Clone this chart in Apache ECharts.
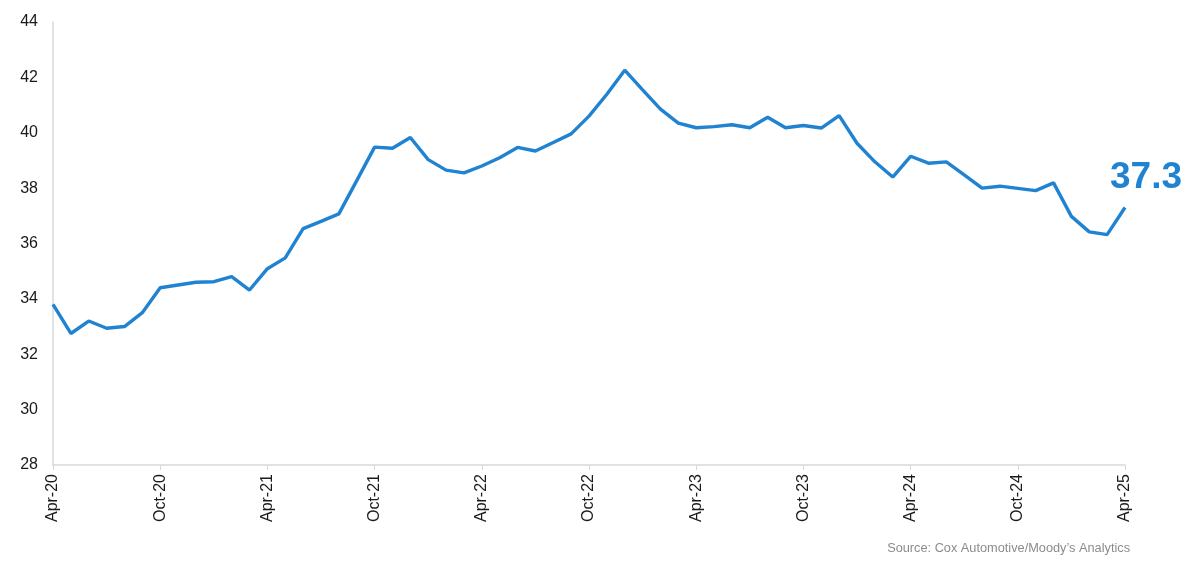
<!DOCTYPE html>
<html>
<head>
<meta charset="utf-8">
<script src="https://cdn.jsdelivr.net/npm/echarts@6/dist/echarts.min.js"></script>
<style>html,body{margin:0;padding:0;background:#fff}#c{width:1200px;height:571px}</style>
</head>
<body>
<div id="c"></div>
<script>
const monthNames = ["Jan","Feb","Mar","Apr","May","Jun","Jul","Aug","Sep","Oct","Nov","Dec"];
const categories = [];
for (let i = 0; i < 61; i++) {
  const m = (3 + i) % 12;
  const y = 20 + Math.floor((3 + i) / 12);
  categories.push(monthNames[m] + "-" + y);
}
const values = [
  33.8, 32.75, 33.2, 32.94, 33.0, 33.5, 34.4, 34.5, 34.6, 34.62, 34.8, 34.32,
  35.09, 35.48, 36.54, 36.8, 37.07, 38.27, 39.48, 39.44, 39.83, 39.03, 38.65, 38.55,
  38.8, 39.1, 39.47, 39.34, 39.65, 39.96, 40.6, 41.39, 42.26, 41.55, 40.85, 40.35,
  40.18, 40.22, 40.29, 40.18, 40.56, 40.18, 40.26, 40.17, 40.62, 39.62, 38.95, 38.4,
  39.15, 38.9, 38.95, 38.48, 38.0, 38.07, 37.99, 37.91, 38.19, 36.98, 36.42, 36.32,
  37.3
];
const yTicks = [28, 30, 32, 34, 36, 38, 40, 42, 44];
const sourceText = "Source: Cox Automotive/Moody\u2019s Analytics";
const lastLabel = "37.3";

const chart = echarts.init(document.getElementById('c'));
chart.setOption({
  animation: false,
  backgroundColor: '#ffffff',
  grid: { left: 53, right: 75, top: 22, bottom: 106, containLabel: false },
  xAxis: {
    type: 'category', data: categories, boundaryGap: false,
    axisLine: { lineStyle: { color: '#d9d9d9', width: 1.5 } },
    axisTick: { show: true, interval: 5, length: 5, lineStyle: { color: '#d9d9d9' } },
    axisLabel: {
      interval: 5, rotate: 90, margin: 9, fontSize: 16,
      fontFamily: 'Liberation Sans, Arial, sans-serif',
      color: (val, idx) => idx === values.length - 1 ? '#666666' : '#1a1a1a'
    },
    splitLine: { show: false }
  },
  yAxis: {
    type: 'value', min: yTicks[0], max: yTicks[yTicks.length - 1], interval: 2,
    axisLine: { show: true, lineStyle: { color: '#d9d9d9', width: 1.5 } },
    axisTick: { show: false },
    splitLine: { show: false },
    axisLabel: { fontSize: 16, color: '#1a1a1a', margin: 15, fontFamily: 'Liberation Sans, Arial, sans-serif' }
  },
  series: [{
    type: 'line', data: values, symbol: 'none', showSymbol: false,
    lineStyle: { color: '#1f83d2', width: 3.4 },
    itemStyle: { color: '#1f83d2' },
    endLabel: {
      show: true, formatter: lastLabel, offset: [-23, -30],
      color: '#1f83d2', fontSize: 37, fontWeight: 'bold',
      fontFamily: 'Liberation Sans, Arial, sans-serif'
    }
  }],
  graphic: [{
    type: 'text', right: 70, top: 542,
    style: { text: sourceText, fill: '#8c8c8c', fontSize: 12.75, fontFamily: 'Liberation Sans, Arial, sans-serif' }
  }]
});
</script>
</body>
</html>
